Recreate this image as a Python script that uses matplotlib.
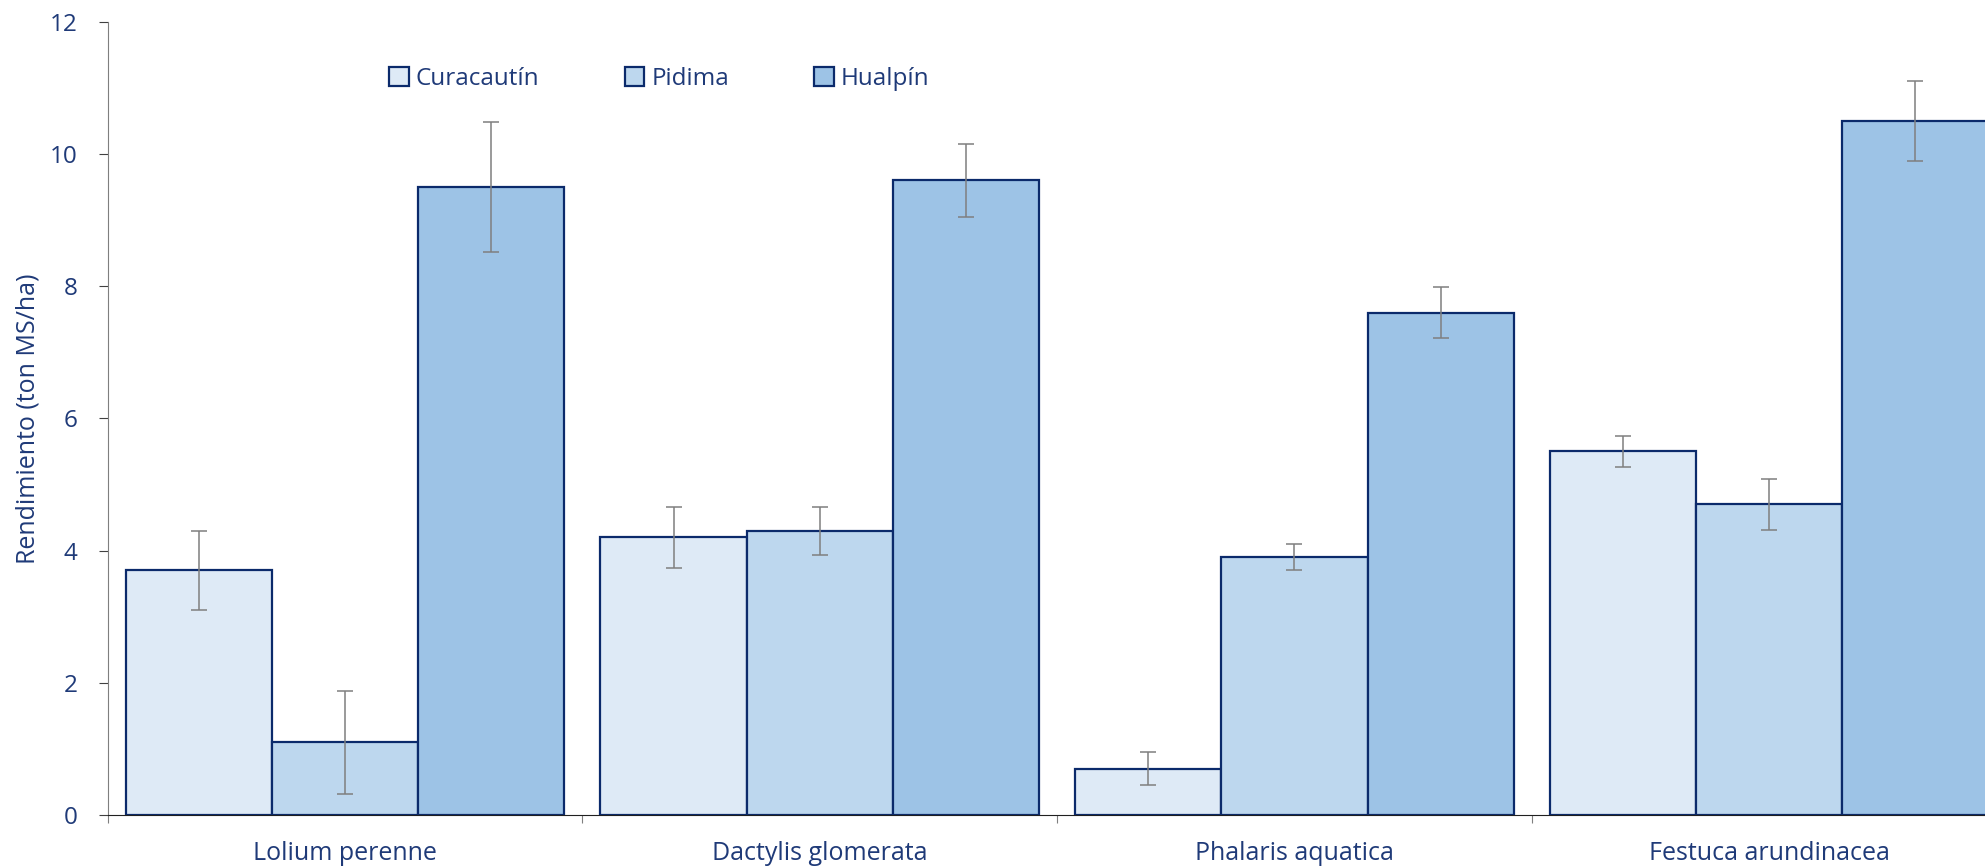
import matplotlib.pyplot as plt
import numpy as np

categories = ['Lolium perenne', 'Dactylis glomerata', 'Phalaris aquatica', 'Festuca arundinacea']
series = ['Curacautín', 'Pidima', 'Hualpín']
curacautin = [3.7, 4.2, 0.7, 5.5]
pidima = [1.1, 4.3, 3.9, 4.7]
hualpin = [9.5, 9.6, 7.6, 10.5]
err_curacautin = [0.6, 0.46, 0.25, 0.23]
err_pidima = [0.78, 0.36, 0.2, 0.39]
err_hualpin = [0.98, 0.55, 0.39, 0.6]

values = [curacautin, pidima, hualpin]
errors = [err_curacautin, err_pidima, err_hualpin]
colors = ['#DEEAF6', '#BDD7EE', '#9DC3E6']
navy = '#0B2A6B'
txt = '#1F3A78'

plt.rcParams['font.family'] = ['Open Sans', 'DejaVu Sans']

fig = plt.figure(figsize=(19.85, 8.68), dpi=100)
ax = fig.add_axes([0.0542, 0.061, 0.9567, 0.914])

x = np.arange(len(categories))
w = 0.308
for i in range(3):
    ax.bar(x + (i - 1) * w, values[i], w, color=colors[i], edgecolor=navy,
           linewidth=1.6, label=series[i], zorder=2)
    ax.errorbar(x + (i - 1) * w, values[i], yerr=errors[i], fmt='none',
                ecolor='#7F7F7F', elinewidth=1.1, capsize=6, capthick=1.1, zorder=3)

ax.set_xlim(-0.5, 3.5)
ax.set_ylim(0, 12)
ax.set_yticks([0, 2, 4, 6, 8, 10, 12])
ax.set_xticks(np.arange(-0.5, 4, 1))
ax.set_xticklabels([])
ax.set_xticks(x, minor=True)
ax.set_xticklabels(categories, minor=True)
ax.tick_params(axis='x', which='major', length=6, color='#7F7F7F', direction='out')
ax.tick_params(axis='x', which='minor', length=0, pad=19, labelsize=18, labelcolor=txt)
ax.tick_params(axis='y', length=6.5, pad=15, labelsize=17.5, labelcolor=txt, color='#404040')

for s in ['top', 'right']:
    ax.spines[s].set_visible(False)
ax.spines['left'].set_color('#7F7F7F')
ax.spines['bottom'].set_color('#202020')
ax.spines['bottom'].set_zorder(4)

ax.set_ylabel('Rendimiento (ton MS/ha)', fontsize=18, color=txt)
ax.yaxis.set_label_coords(-0.0355, 0.5)

ax.legend(loc='upper left', bbox_to_anchor=(0.185, 0.948), bbox_transform=fig.transFigure,
          ncol=3, frameon=False, fontsize=17.5, labelcolor=txt, columnspacing=3.5,
          handlelength=0.8, handleheight=0.8, handletextpad=0.3)

fig.savefig('out.png', dpi=100)
